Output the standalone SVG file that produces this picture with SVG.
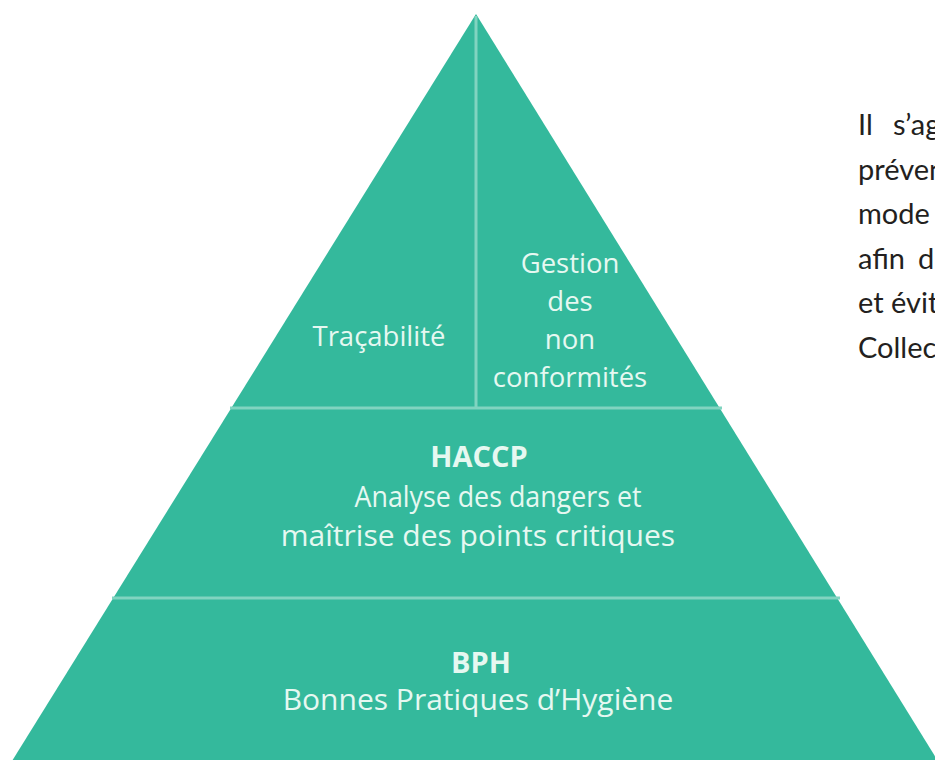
<svg xmlns="http://www.w3.org/2000/svg" width="935" height="760" viewBox="0 0 935 760">
  <style>
    .lbl { font-family: "Open Sans", "Noto Sans", sans-serif; fill: #e6f8f1; text-anchor: middle; }
    .sm { font-size: 27.5px; }
    .md { font-size: 30px; }
    .bd { font-size: 29px; font-weight: bold; }
    .sep { stroke: #80d4c0; stroke-width: 3; fill: none; }
    .para { font-family: Lato, "Liberation Sans", sans-serif; font-size: 29px; fill: #231f20; }
  </style>
  <rect width="935" height="760" fill="#ffffff"/>
  <g id="pyramid">
    <polygon points="476,14 12,761 938,761" fill="#34b99c"/>
  </g>
  <g id="connectors">
    <line class="sep" x1="476" y1="16" x2="476" y2="408"/>
    <line class="sep" x1="230" y1="408" x2="722" y2="408"/>
    <line class="sep" x1="112" y1="598" x2="840" y2="598"/>
  </g>
  <g id="tracabilite">
    <text class="lbl sm" x="379" y="346">Traçabilité</text>
  </g>
  <g id="gestion">
    <text class="lbl sm" x="570" y="273">Gestion</text>
    <text class="lbl sm" x="570" y="311">des</text>
    <text class="lbl sm" x="570" y="349">non</text>
    <text class="lbl sm" x="570" y="387">conformités</text>
  </g>
  <g id="haccp">
    <text class="lbl bd" x="479" y="467">HACCP</text>
    <text class="lbl md" x="498" y="507" textLength="287" lengthAdjust="spacingAndGlyphs">Analyse des dangers et</text>
    <text class="lbl md" x="478" y="546">maîtrise des points critiques</text>
  </g>
  <g id="bph">
    <text class="lbl bd" x="481" y="673">BPH</text>
    <text class="lbl md" x="478" y="710">Bonnes Pratiques d’Hygiène</text>
  </g>
  <g id="paragraph">
    <text class="para" y="135"><tspan x="858">Il</tspan><tspan x="893">s’ag</tspan></text>
    <text class="para" x="858" y="180">préven</text>
    <text class="para" x="858" y="224">mode</text>
    <text class="para" y="269"><tspan x="858">afin</tspan><tspan x="918">d</tspan></text>
    <text class="para" x="858" y="313">et évit</text>
    <text class="para" x="858" y="358">Collec</text>
  </g>
</svg>
